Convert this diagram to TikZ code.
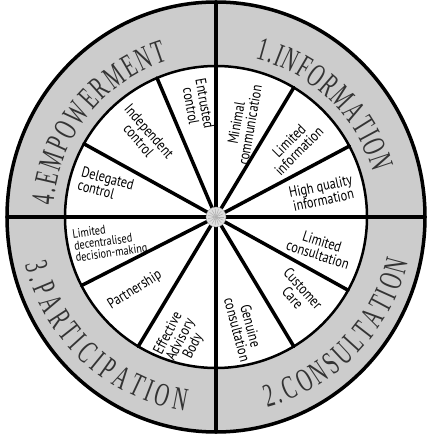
\documentclass[tikz,border=0pt]{standalone}
\usepackage{fontspec}
\newfontfamily\ringfont[FakeStretch=0.6]{Liberation Serif}
\newfontfamily\handfont[FakeStretch=0.82]{PT Sans}
\usetikzlibrary{decorations.text}
\definecolor{ringgray}{gray}{0.8}

\begin{document}
\begin{tikzpicture}[x=1pt,y=1pt, spoke/.style={line width=3.5pt,line cap=round}, lbl/.style={align=center,inner sep=0pt,font=\handfont\fontsize{15}{14}\selectfont}, ring/.style={decorate,decoration={text along path,text align=fit to path,text color=black!80,text={|\ringfont\fontsize{33}{33}\selectfont|#1}}}]
\useasboundingbox (0,0) rectangle (428,434);
\coordinate (C) at (216,217);
\draw[line width=3.5pt,fill=ringgray] (C) ellipse[x radius=209,y radius=215];
\draw[line width=2.5pt,fill=white] (C) circle[radius=151];
\foreach \a in {59,28,-29,-59,-121,-153,151,113}
  \draw[spoke] (C) -- ++(\a:151);
\foreach \a in {0,90,180,270}
  \draw[spoke] (C) -- ++(\a:209 and 215);
\node[circle,draw=gray!70,fill=gray!25,minimum size=20pt,inner sep=0pt] (hub) at (C) {};
\foreach \a in {0,24,...,336}
  \draw[gray!60,line width=0.6pt] (hub.center) -- ++(\a:8);
\node[lbl,rotate=-80] (entrusted) at (198,329) {Entrusted\\control};
\node[lbl,rotate=80] (minimal) at (243,310) {Minimal\\communication};
\node[lbl,rotate=45] (liminfo) at (294,288) {Limited\\information};
\node[lbl,rotate=12] (highq) at (322,241) {High quality\\information};
\node[lbl,rotate=-18] (limcons) at (320,186) {Limited\\consultation};
\node[lbl,rotate=-48] (customer) at (298,141) {Customer\\Care};
\node[lbl,rotate=-75] (genuine) at (244,106) {Genuine\\consultation};
\node[lbl,rotate=63] (advisory) at (181,94) {Effective\\Advisory\\Body};
\node[lbl,rotate=32] (partner) at (135,144) {Partnership};
\node[lbl,rotate=8,align=left,font=\handfont\fontsize{12.5}{12}\selectfont] (decentral) at (110,192) {Limited\\decentralised\\decision-making};
\node[lbl,rotate=-15,align=left] (delegated) at (106,249) {Delegated\\control};
\node[lbl,rotate=-49] (independent) at (144,298) {Independent\\control};
\path[ring={1.INFORMATION}] ([shift={(76:163)}]C) arc[start angle=76,end angle=16,radius=163];
\path[ring={4.EMPOWERMENT}] ([shift={(176:163)}]C) arc[start angle=176,end angle=107,radius=163];
\path[ring={3.PARTICIPATION}] ([shift={(194:197)}]C) arc[start angle=194,end angle=261,radius=197];
\path[ring={2.CONSULTATION}] ([shift={(285:197)}]C) arc[start angle=285,end angle=347,radius=197];
\end{tikzpicture}
\end{document}
